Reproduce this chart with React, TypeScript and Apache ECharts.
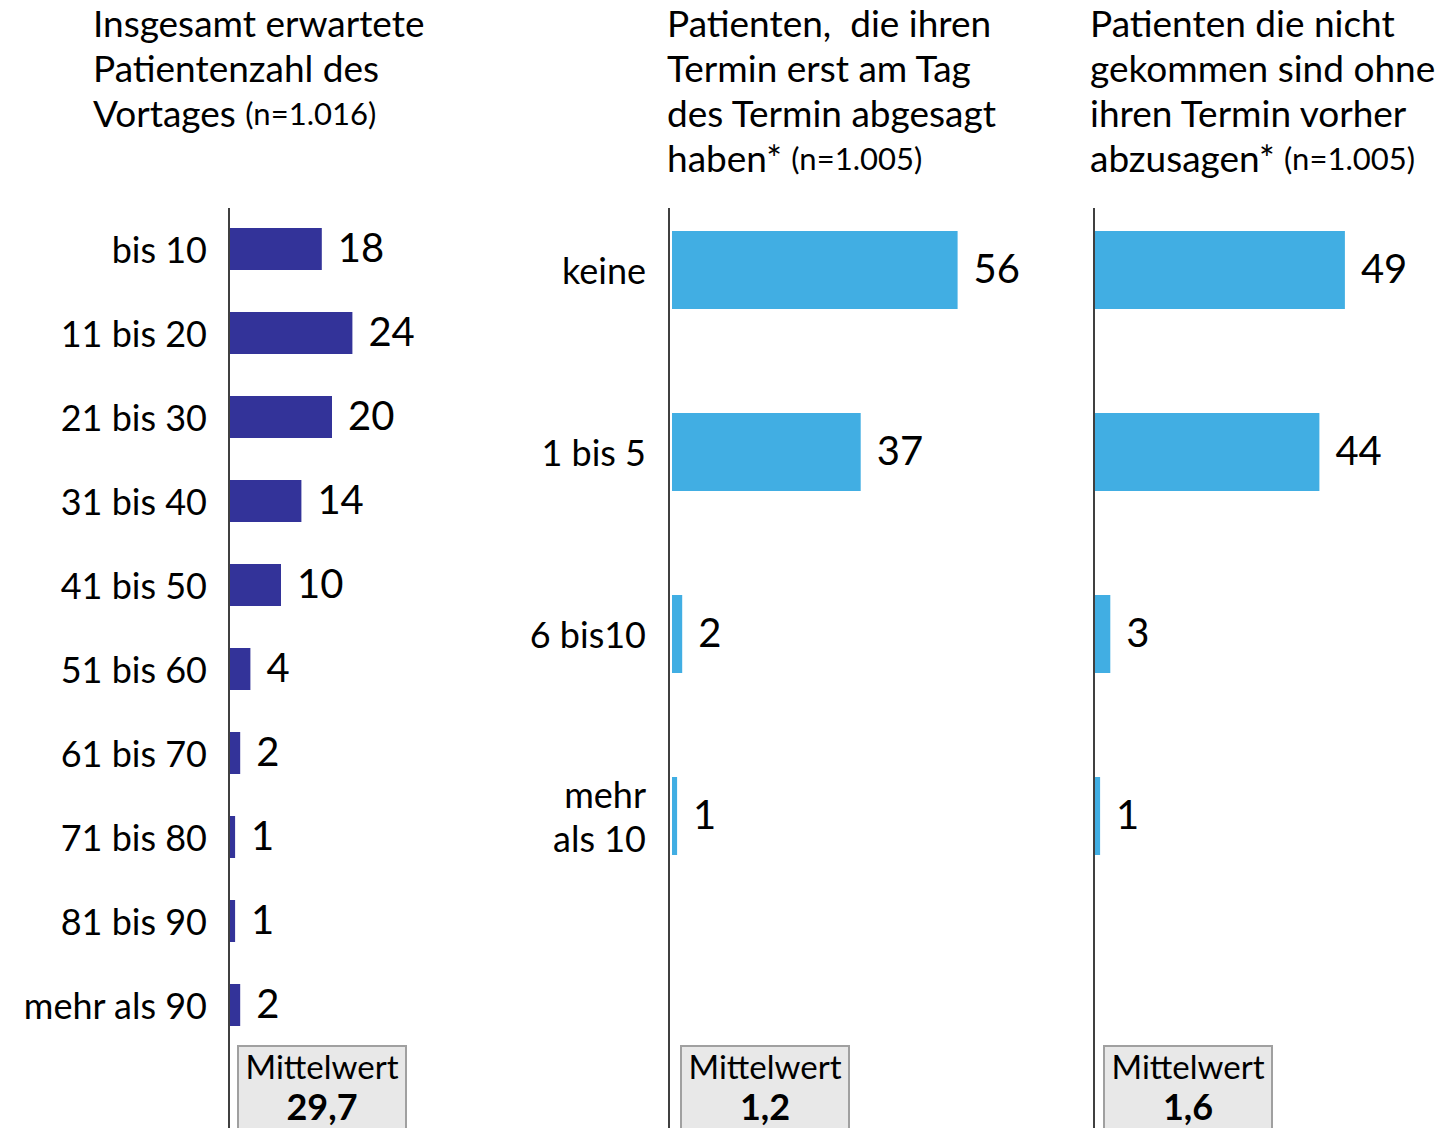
import React, { useEffect, useRef } from "react";
import * as echarts from "echarts";

const cats1 = ["bis 10", "11 bis 20", "21 bis 30", "31 bis 40", "41 bis 50", "51 bis 60", "61 bis 70", "71 bis 80", "81 bis 90", "mehr als 90"];
const vals1 = [18, 24, 20, 14, 10, 4, 2, 1, 1, 2];
const cats2 = ["keine", "1 bis 5", "6 bis10", "mehr\nals 10"];
const vals2 = [56, 37, 2, 1];
const vals3 = [49, 44, 3, 1];
const means = ["29,7", "1,2", "1,6"];
const titles = [
  { main: "Insgesamt erwartete\nPatientenzahl des\nVortages ", n: "(n=1.016)" },
  { main: "Patienten,  die ihren\nTermin erst am Tag\ndes Termin abgesagt\nhaben* ", n: "(n=1.005)" },
  { main: "Patienten die nicht\ngekommen sind ohne\nihren Termin vorher\nabzusagen* ", n: "(n=1.005)" },
];

const FONT = "Lato";
const DARK = "#333399";
const LIGHT = "#41AEE3";

export default function App() {
  const ref = useRef<HTMLDivElement>(null);
  useEffect(() => {
    document.body.style.margin = "0";
    if (!ref.current) return;
    const chart = echarts.init(ref.current, null, { renderer: "svg" });

    const gridDefs = [
      { left: 230, top: 207, width: 306, height: 840 },
      { left: 672, top: 179, width: 306, height: 728 },
      { left: 1095, top: 179, width: 306, height: 728 },
    ];
    const axisX = [229, 669, 1094];
    const titleX = [93, 667, 1090];
    const boxCx = [322, 765, 1188];

    const xAxis = gridDefs.map((_, i) => ({
      type: "value", gridIndex: i, min: 0, max: 60, show: false,
    }));
    const yAxis = [
      {
        type: "category", gridIndex: 0, data: cats1, inverse: true,
        axisLine: { show: false }, axisTick: { show: false },
        axisLabel: { fontSize: 36, color: "#000", margin: 23, fontFamily: FONT },
      },
      {
        type: "category", gridIndex: 1, data: cats2, inverse: true,
        axisLine: { show: false }, axisTick: { show: false },
        axisLabel: { fontSize: 36, color: "#000", margin: 26, fontFamily: FONT, lineHeight: 44, padding: [0, 0, 5, 0] },
      },
      {
        type: "category", gridIndex: 2, data: cats2, inverse: true,
        axisLine: { show: false }, axisTick: { show: false },
        axisLabel: { show: false },
      },
    ];
    const label = { show: true, position: "right", distance: 16, offset: [0, -2], fontSize: 40, color: "#000", fontFamily: FONT };
    const series = [
      { type: "bar", xAxisIndex: 0, yAxisIndex: 0, data: vals1, barWidth: 42, itemStyle: { color: DARK }, label },
      { type: "bar", xAxisIndex: 1, yAxisIndex: 1, data: vals2, barWidth: 78, itemStyle: { color: LIGHT }, label },
      { type: "bar", xAxisIndex: 2, yAxisIndex: 2, data: vals3, barWidth: 78, itemStyle: { color: LIGHT }, label },
    ];

    const graphic: any[] = [];
    axisX.forEach((x) => {
      graphic.push({
        type: "line", shape: { x1: x, y1: 208, x2: x, y2: 1128 },
        style: { stroke: "#000", lineWidth: 1.5 }, z: 10,
      });
    });
    titles.forEach((t, i) => {
      graphic.push({
        type: "text", x: titleX[i], y: 0,
        style: {
          text: t.main + "{s|" + t.n + "}",
          fontSize: 37, fontFamily: FONT, fill: "#000", lineHeight: 45,
          rich: { s: { fontSize: 31, fontFamily: FONT, fill: "#000", lineHeight: 45 } },
        },
      });
    });
    boxCx.forEach((cx, i) => {
      graphic.push({
        type: "rect", shape: { x: cx - 84, y: 1046, width: 168, height: 95 },
        style: { fill: "#E8E8E8", stroke: "#A0A0A0", lineWidth: 2 },
      });
      graphic.push({
        type: "text", x: cx, y: 1066,
        style: { text: "Mittelwert", fontSize: 33, fontFamily: FONT, fill: "#000", align: "center", verticalAlign: "middle" },
      });
      graphic.push({
        type: "text", x: cx, y: 1106,
        style: { text: means[i], fontSize: 36, fontWeight: "bold", fontFamily: FONT, fill: "#000", align: "center", verticalAlign: "middle" },
      });
    });

    chart.setOption({
      animation: false,
      backgroundColor: "#fff",
      grid: gridDefs.map((g) => ({ ...g, containLabel: false })),
      xAxis,
      yAxis,
      series,
      graphic,
    });
    return () => chart.dispose();
  }, []);
  return <div ref={ref} style={{ width: 1445, height: 1128 }} />;
}
